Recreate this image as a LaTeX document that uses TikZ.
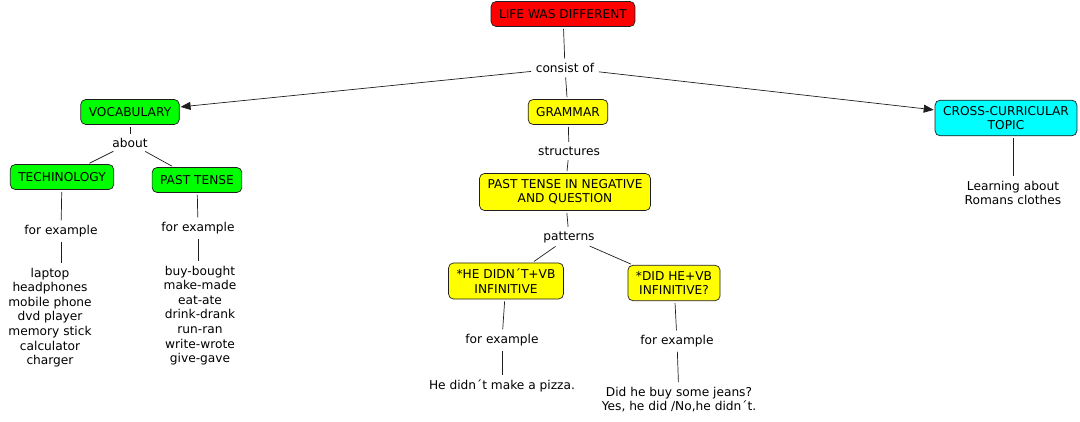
\documentclass[tikz,border=0pt]{standalone}
\usepackage{fontspec}
\setmainfont{DejaVu Sans}
\usepackage{tikz}
\usetikzlibrary{
  arrows.meta,
  positioning
}
\definecolor{ConceptRed}{RGB}{255, 0, 0}
\definecolor{ConceptGreen}{RGB}{0, 255, 0}
\definecolor{ConceptYellow}{RGB}{255, 255, 0}
\definecolor{ConceptCyan}{RGB}{0, 255, 255}
\definecolor{LineGray}{RGB}{30, 30, 30}
\tikzset{
    concept/.style={draw=LineGray, line width=0.7pt, rounded corners=5pt, inner xsep=8pt, inner ysep=6pt,
        minimum height=25pt, align=center, font=\fontsize{12.2}{14.4}\selectfont},
    linkword/.style={inner sep=2.5pt, align=center, font=\fontsize{12.2}{14.6}\selectfont},
    link/.style={draw=LineGray, line width=0.7pt, shorten <=2pt, shorten >=2pt},
    arrowlink/.style={link, shorten >=1pt, -{Triangle[length=10pt,width=8pt]}}
}

\begin{document}
\begin{tikzpicture}[x=1pt,y=-1pt]
    \useasboundingbox (0,0) rectangle (1080,422);
    % concepts
    \node[concept, fill=ConceptRed] (life) at (563,14) {LIFE WAS DIFFERENT};
    \node[concept, fill=ConceptGreen] (voc) at (130,112) {VOCABULARY};
    \node[concept, fill=ConceptGreen] (tech) at (62,177) {TECHINOLOGY};
    \node[concept, fill=ConceptGreen] (past) at (197,180) {PAST TENSE};
    \node[concept, fill=ConceptYellow] (grammar) at (568,112) {GRAMMAR};
    \node[concept, fill=ConceptYellow] (ptneg) at (565,192) {PAST TENSE IN NEGATIVE\\AND QUESTION};
    \node[concept, fill=ConceptYellow] (hedidnt) at (506,281) {*HE DIDN´T+VB\\INFINITIVE};
    \node[concept, fill=ConceptYellow] (didhe) at (674,283) {*DID HE+VB\\INFINITIVE?};
    \node[concept, fill=ConceptCyan] (cross) at (1006,118) {CROSS-CURRICULAR\\TOPIC};
    % linking words
    \node[linkword] (consist) at (565,68) {consist of};
    \node[linkword] (about) at (130,143) {about};
    \node[linkword] (structures) at (569,151) {structures};
    \node[linkword] (patterns) at (569,237) {patterns};
    \node[linkword] (techfor) at (61,231) {for example};
    \node[linkword] (pastfor) at (198,228) {for example};
    \node[linkword] (hefor) at (502,340) {for example};
    \node[linkword] (didfor) at (677,341) {for example};
    % examples
    \node[linkword] (techlist) at (50,317.5) {laptop\\headphones\\mobile phone\\dvd player\\memory stick\\calculator\\charger};
    \node[linkword] (pastlist) at (200,315.5) {buy-bought\\make-made\\eat-ate\\drink-drank\\run-ran\\write-wrote\\give-gave};
    \node[linkword] (helist) at (502,386) {He didn´t make a pizza.};
    \node[linkword] (didlist) at (679,399.5) {Did he buy some jeans?\\Yes, he did /No,he didn´t.};
    \node[linkword] (learn) at (1013,193) {Learning about\\Romans clothes};
    % connectors
    \draw[link] (life) -- (consist);
    \draw[arrowlink] (consist) -- (voc);
    \draw[link] (consist) -- (grammar);
    \draw[arrowlink] (consist) -- (cross);
    \draw[link] (voc) -- (about);
    \draw[link] (about) -- (tech);
    \draw[link] (about) -- (past);
    \draw[link] (tech) -- (techfor);
    \draw[link] (techfor) -- (techfor |- techlist.north);
    \draw[link] (past) -- (pastfor);
    \draw[link] (pastfor) -- (pastfor |- pastlist.north);
    \draw[link] (grammar) -- (structures);
    \draw[link] (structures) -- (ptneg);
    \draw[link] (ptneg) -- (patterns);
    \draw[link] (patterns) -- (hedidnt);
    \draw[link] (patterns) -- (didhe);
    \draw[link] (hedidnt) -- (hefor);
    \draw[link] (hefor) -- (helist);
    \draw[link] (didhe) -- (didfor);
    \draw[link] (didfor) -- (didlist);
    \draw[link] (cross.south -| learn.north) -- (learn);
\end{tikzpicture}
\end{document}
